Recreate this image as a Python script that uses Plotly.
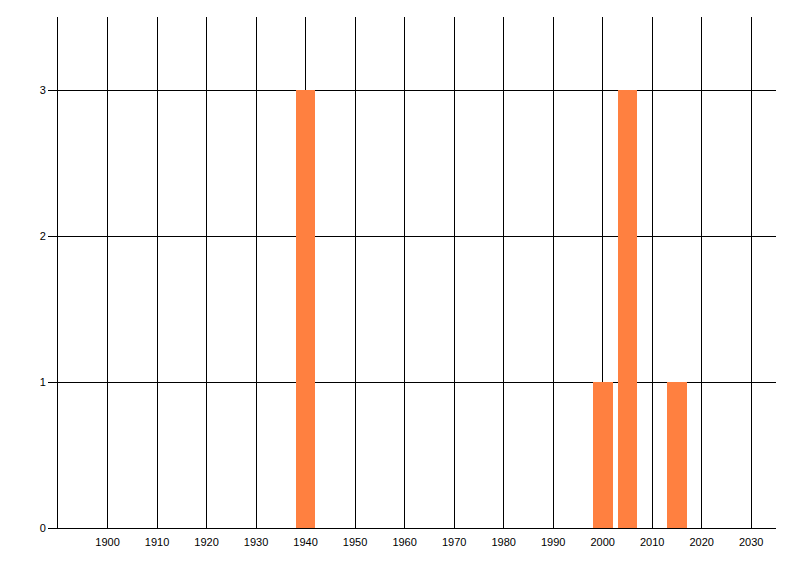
import plotly.graph_objects as go

years = [1940, 2000, 2005, 2015]
counts = [3, 1, 3, 1]
x_ticks = [1900, 1910, 1920, 1930, 1940, 1950, 1960, 1970, 1980, 1990, 2000, 2010, 2020, 2030]
x_tick_labels = [str(v) for v in x_ticks]
y_ticks = [0, 1, 2, 3]
y_tick_labels = ["0", "1", "2", "3"]

fig = go.Figure()
fig.add_trace(go.Bar(
    x=years, y=counts, width=4,
    marker=dict(color="#FF8040", line=dict(width=0)),
))

font = dict(family="Liberation Sans, Arial, sans-serif", size=11, color="black")

# page body has an 8px default margin; figure sized/positioned to compensate
fig.update_layout(
    width=792, height=568,
    margin=dict(l=50, r=24, t=9, b=48, pad=0),
    paper_bgcolor="white", plot_bgcolor="white",
    showlegend=False,
    font=font,
    bargap=0,
)
fig.update_xaxes(
    range=[1890, 2035],
    tickvals=x_ticks, ticktext=x_tick_labels,
    showgrid=True, gridcolor="black", gridwidth=1,
    showline=True, linecolor="black", linewidth=1,
    ticks="outside", ticklen=4, tickcolor="rgba(0,0,0,0)",
    zeroline=False, tickfont=font,
)
fig.update_yaxes(
    range=[0, 3.5],
    tickvals=y_ticks, ticktext=y_tick_labels,
    showgrid=True, gridcolor="black", gridwidth=1,
    showline=True, linecolor="black", linewidth=1,
    ticks="outside", ticklen=9, tickcolor="black", tickwidth=1,
    zeroline=False, tickfont=font,
)

fig.write_html("out.html")
